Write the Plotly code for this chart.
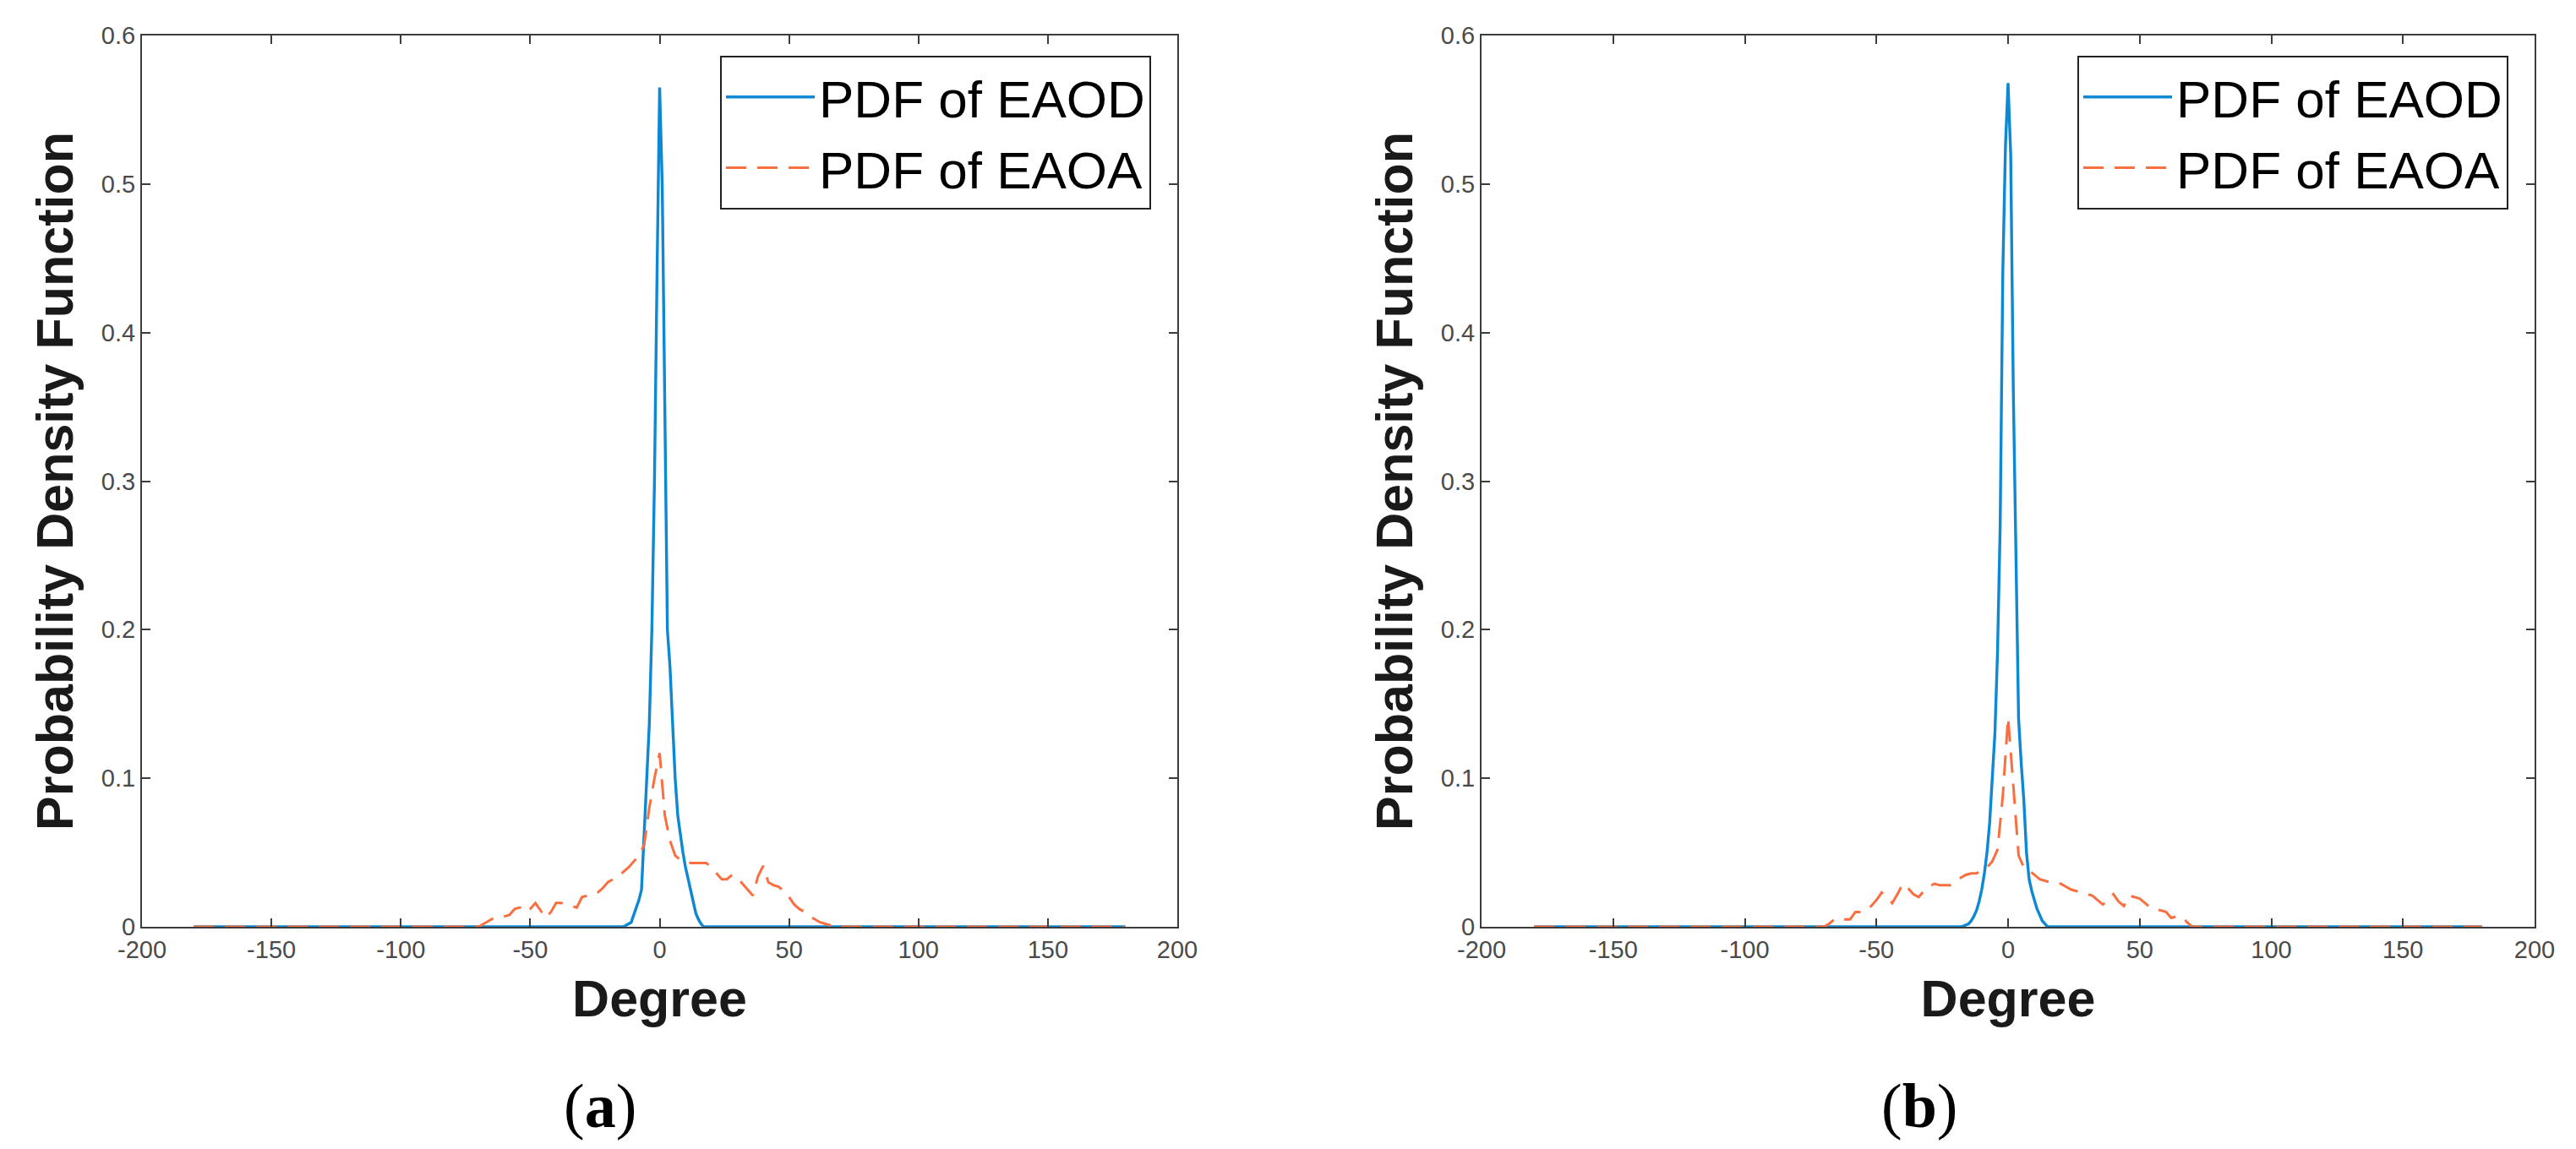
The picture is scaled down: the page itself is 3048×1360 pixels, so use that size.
import plotly.graph_objects as go

# ---------------- data ----------------
X_TICKS = [-200, -150, -100, -50, 0, 50, 100, 150, 200]
X_TICK_TEXT = ["-200", "-150", "-100", "-50", "0", "50", "100", "150", "200"]
Y_TICKS = [0, 0.1, 0.2, 0.3, 0.4, 0.5, 0.6]
Y_TICK_TEXT = ["0", "0.1", "0.2", "0.3", "0.4", "0.5", "0.6"]

DEG_MIN, DEG_MAX = -180, 180

# (a) PDF of EAOD, 1-degree bins, nonzero part starts at -14 deg
EAOD_A_START = -14
EAOD_A = [0, 0.001, 0.002, 0.003, 0.008, 0.013, 0.018, 0.025, 0.06, 0.098,
          0.136, 0.2, 0.3, 0.44, 0.565, 0.5, 0.33, 0.2, 0.175, 0.14,
          0.1, 0.075, 0.062, 0.05, 0.04, 0.032, 0.024, 0.016, 0.009, 0.005,
          0.002, 0]
# (a) PDF of EAOA, 2-degree bins, nonzero part starts at -70 deg
EAOA_A_START = -70
EAOA_A = [0, 0.002, 0.004, 0.006, 0.006, 0.007, 0.008, 0.012, 0.013, 0.010,
          0.012, 0.016, 0.011, 0.006, 0.010, 0.016, 0.016, 0.015, 0.014, 0.013,
          0.020, 0.021, 0.022, 0.023, 0.026, 0.030, 0.032, 0.034, 0.037, 0.040,
          0.044, 0.048, 0.055, 0.080, 0.100, 0.117, 0.075, 0.058, 0.048, 0.045,
          0.044, 0.043, 0.043, 0.043, 0.043, 0.040, 0.036, 0.032, 0.032, 0.035,
          0.033, 0.029, 0.025, 0.021, 0.034, 0.041, 0.030, 0.028, 0.027, 0.024,
          0.020, 0.015, 0.012, 0.010, 0.007, 0.005, 0.003, 0.002, 0.001, 0.0005,
          0]

# (b) PDF of EAOD
EAOD_B_START = -18
EAOD_B = [0, 0.0005, 0.001, 0.002, 0.004, 0.007, 0.011, 0.017, 0.025, 0.036,
          0.05, 0.07, 0.10, 0.13, 0.185, 0.27, 0.44, 0.525, 0.568, 0.52,
          0.36, 0.25, 0.14, 0.11, 0.085, 0.05, 0.032, 0.024, 0.018, 0.012,
          0.008, 0.004, 0.002, 0]
# (b) PDF of EAOA
EAOA_B_START = -70
EAOA_B = [0, 0.002, 0.005, 0.006, 0.005, 0.005, 0.010, 0.010, 0.011, 0.014,
          0.018, 0.023, 0.020, 0.016, 0.022, 0.029, 0.026, 0.022, 0.020, 0.024,
          0.027, 0.029, 0.028, 0.028, 0.028, 0.030, 0.033, 0.035, 0.036, 0.036,
          0.038, 0.040, 0.044, 0.052, 0.088, 0.141, 0.095, 0.048, 0.040, 0.038,
          0.035, 0.032, 0.031, 0.030, 0.029, 0.029, 0.027, 0.025, 0.024, 0.023,
          0.022, 0.021, 0.018, 0.015, 0.018, 0.022, 0.017, 0.014, 0.021, 0.020,
          0.019, 0.016, 0.013, 0.012, 0.011, 0.010, 0.006, 0.007, 0.007, 0.003,
          0]

SERIES_NAMES = ["PDF of EAOD", "PDF of EAOA"]
PANEL_LABELS = ["a", "b"]


def full_series(core, start, step):
    """Place the read bin values on the -180..180 degree grid (zeros elsewhere)."""
    xs = list(range(DEG_MIN, DEG_MAX + 1, step))
    ys = []
    for x in xs:
        i = (x - start) // step
        if (x - start) % step == 0 and 0 <= i < len(core):
            ys.append(core[i])
        else:
            ys.append(0.0)
    return xs, ys


# ---------------- styling ----------------
W, H = 3048, 1360
BLUE = "#0D88D2"
ORANGE = "#FA6E40"
AXIS_COLOR = "#3c3c3c"
TICK_FONT_COLOR = "#4a4a4a"
SANS = "Liberation Sans, Arial, sans-serif"

PANELS = [
    dict(x0=160, x1=1385, label_x=702),
    dict(x0=1745, x1=2991, label_x=2263),
]
Y_TOP, Y_BOT = 34, 1089

fig = go.Figure()

data = [
    ((EAOD_A, EAOD_A_START, 1), (EAOA_A, EAOA_A_START, 2)),
    ((EAOD_B, EAOD_B_START, 1), (EAOA_B, EAOA_B_START, 2)),
]

for p, (d_od, d_oa) in enumerate(data):
    xa = "x" if p == 0 else "x2"
    ya = "y" if p == 0 else "y2"
    lg = "legend" if p == 0 else "legend2"
    xs, ys = full_series(*d_od)
    fig.add_trace(go.Scatter(x=xs, y=ys, mode="lines", name=SERIES_NAMES[0],
                             line=dict(color=BLUE, width=3.4),
                             xaxis=xa, yaxis=ya, legend=lg))
    xs, ys = full_series(*d_oa)
    fig.add_trace(go.Scatter(x=xs, y=ys, mode="lines", name=SERIES_NAMES[1],
                             line=dict(color=ORANGE, width=3, dash="24px,13px"),
                             xaxis=xa, yaxis=ya, legend=lg))

axis_common = dict(
    showline=True, linecolor=AXIS_COLOR, linewidth=2, mirror="ticks",
    ticks="inside", ticklen=10, tickwidth=2, tickcolor=AXIS_COLOR,
    showgrid=False, zeroline=False, automargin=False,
    tickfont=dict(family=SANS, size=29, color=TICK_FONT_COLOR),
)
title_font = dict(family=SANS, size=61, color="#1a1a1a")

ydom = [(H - Y_BOT) / H, (H - Y_TOP) / H]
layout = dict(
    template="none",
    width=W, height=H,
    margin=dict(l=0, r=0, t=0, b=0, autoexpand=False),
    paper_bgcolor="white", plot_bgcolor="white",
    showlegend=True,
    annotations=[],
)
for p, pan in enumerate(PANELS):
    sfx = "" if p == 0 else "2"
    layout["xaxis" + sfx] = dict(
        axis_common, domain=[pan["x0"] / W, pan["x1"] / W], range=[-200, 200],
        tickvals=X_TICKS, ticktext=X_TICK_TEXT,
        anchor="y" + sfx,
        title=dict(text="<b>Degree</b>", font=title_font, standoff=22),
    )
    layout["yaxis" + sfx] = dict(
        axis_common, domain=ydom, range=[0, 0.6],
        tickvals=Y_TICKS, ticktext=Y_TICK_TEXT,
        anchor="x" + sfx,
        title=dict(text="<b>Probability Density Function</b>", font=title_font, standoff=14),
    )
    leg = dict(
        x=(pan["x1"] - 31) / W, y=(H - 58) / H, xanchor="right", yanchor="top",
        bgcolor="white", bordercolor="#222222", borderwidth=2,
        font=dict(family=SANS, size=62, color="black"),
        itemwidth=105, tracegroupgap=0,
    )
    layout["legend" if p == 0 else "legend2"] = leg
    layout["annotations"].append(dict(
        text="(<b>%s</b>)" % PANEL_LABELS[p], x=pan["label_x"] / W, y=(H - 1301) / H,
        xref="paper", yref="paper", showarrow=False, xanchor="center", yanchor="middle",
        font=dict(family="Liberation Serif, Times New Roman, serif", size=74, color="black"),
    ))

fig.update_layout(**layout)
fig.write_html("out.html")
